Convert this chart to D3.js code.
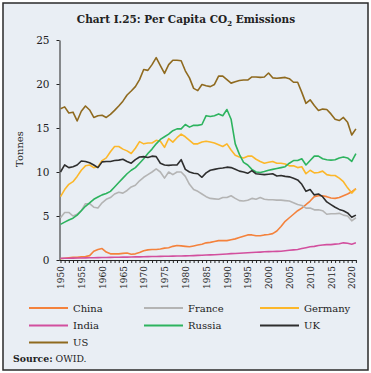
<!DOCTYPE html>
<html lang="en">
<head>
<meta charset="utf-8">
<title>Per Capita CO2 Emissions</title>
<script src="https://d3js.org/d3.v7.min.js"></script>
<style>
  body { margin: 0; background: #fff; }
  svg { display: block; font-family: "DejaVu Serif", serif; }
  .axis path, .axis line { stroke: #222; }
  .axis text { fill: #222; }
  .serie { fill: none; stroke-width: 1.6; stroke-linejoin: round; }
</style>
</head>
<body>
<div id="chart"></div>
<script>
// anos
var years = d3.range(1950, 2022);

var china = [0.15, 0.2, 0.25, 0.3, 0.3, 0.35, 0.4, 0.5, 1.0, 1.2,
  1.3, 0.9, 0.7, 0.7, 0.7, 0.75, 0.8, 0.65, 0.7, 0.85,
  1.05, 1.15, 1.2, 1.2, 1.25, 1.35, 1.4, 1.55, 1.65, 1.6,
  1.55, 1.5, 1.6, 1.7, 1.8, 1.95, 2.0, 2.1, 2.2, 2.2,
  2.2, 2.3, 2.4, 2.55, 2.7, 2.85, 2.85, 2.75, 2.75, 2.85,
  2.9, 3.0, 3.3, 3.8, 4.4, 4.8, 5.2, 5.6, 5.9, 6.3,
  6.7, 7.2, 7.3, 7.3, 7.2, 7.05, 7.0, 7.1, 7.3, 7.5,
  7.75, 8.1];

var france = [4.8, 5.4, 5.4, 5.0, 5.2, 5.6, 6.4, 6.4, 6.0, 5.9,
  6.5, 6.9, 7.1, 7.5, 7.7, 7.6, 7.9, 8.3, 8.5, 9.0,
  9.4, 9.7, 10.0, 10.35, 10.0, 9.3, 10.0, 9.7, 10.0, 10.0,
  9.5, 8.6, 8.0, 7.8, 7.5, 7.2, 7.0, 6.95, 6.9, 7.1,
  7.1, 7.3, 7.0, 6.75, 6.7, 6.8, 7.0, 6.9, 7.1, 6.9,
  6.85, 6.85, 6.8, 6.8, 6.75, 6.7, 6.5, 6.3, 6.2, 5.9,
  5.9, 5.7, 5.7, 5.6, 5.2, 5.25, 5.25, 5.3, 5.1, 5.0,
  4.45, 4.8];

var germany = [7.2, 8.0, 8.6, 8.9, 9.5, 10.2, 10.7, 10.8, 10.5, 10.6,
  11.3, 11.6, 12.3, 12.9, 12.9, 12.6, 12.4, 12.1, 12.7, 13.45,
  13.2, 13.3, 13.3, 13.6, 13.5, 12.8, 13.8, 13.4, 13.9, 14.3,
  14.0, 13.6, 13.2, 13.2, 13.4, 13.5, 13.4, 13.3, 13.1, 12.9,
  13.2, 12.5, 11.9, 11.7, 11.6, 11.8, 11.8, 11.45, 11.2, 11.0,
  11.1, 11.2, 11.0, 11.0, 10.9, 10.7, 10.7, 10.5, 10.6, 9.8,
  10.2, 9.9, 9.95, 10.1, 9.7, 9.6, 9.6, 9.3, 8.9, 8.2,
  7.6, 8.1];

var india = [0.2, 0.2, 0.2, 0.21, 0.22, 0.23, 0.24, 0.25, 0.26, 0.27,
  0.28, 0.29, 0.3, 0.31, 0.32, 0.33, 0.33, 0.34, 0.35, 0.36,
  0.37, 0.38, 0.39, 0.4, 0.41, 0.42, 0.43, 0.44, 0.45, 0.46,
  0.47, 0.48, 0.5, 0.52, 0.54, 0.56, 0.58, 0.6, 0.63, 0.66,
  0.69, 0.72, 0.74, 0.76, 0.79, 0.82, 0.86, 0.88, 0.9, 0.93,
  0.95, 0.97, 0.98, 1.0, 1.05, 1.1, 1.15, 1.2, 1.3, 1.4,
  1.5, 1.55, 1.65, 1.7, 1.75, 1.75, 1.8, 1.85, 1.95, 1.9,
  1.8, 1.95];

var russia = [4.05, 4.3, 4.55, 4.75, 5.1, 5.6, 6.1, 6.5, 6.9, 7.15,
  7.4, 7.55, 7.8, 8.3, 8.8, 9.3, 9.8, 10.2, 10.5, 11.0,
  11.5, 12.1, 12.6, 13.2, 13.7, 14.0, 14.3, 14.7, 14.9, 14.9,
  15.4, 15.1, 15.3, 15.3, 15.4, 16.4, 16.3, 16.4, 16.6, 16.4,
  17.1, 16.0, 13.2, 12.0, 11.1, 10.8, 10.3, 10.0, 9.95, 10.05,
  10.2, 10.3, 10.4, 10.5, 10.6, 11.0, 11.3, 11.3, 11.5, 10.8,
  11.3, 11.8, 11.8, 11.5, 11.4, 11.35, 11.4, 11.6, 11.7, 11.6,
  11.2, 12.1];

var uk = [10.0, 10.8, 10.5, 10.6, 10.8, 11.25, 11.2, 11.05, 10.8, 10.5,
  11.15, 11.2, 11.2, 11.3, 11.35, 11.45, 11.2, 11.0, 11.4, 11.7,
  11.75, 11.65, 11.8, 11.75, 11.0, 10.8, 10.75, 10.8, 10.8, 11.4,
  10.3, 10.0, 9.85, 9.8, 9.4, 9.9, 10.2, 10.3, 10.4, 10.45,
  10.55, 10.5, 10.3, 10.1, 10.0, 9.85, 10.15, 9.8, 9.75, 9.7,
  9.75, 9.8, 9.55, 9.6, 9.5, 9.45, 9.3, 9.1, 8.6, 7.8,
  8.0, 7.4, 7.5, 7.2, 6.6, 6.3, 6.0, 5.75, 5.6, 5.35,
  4.85, 5.1];

var us = [17.2, 17.4, 16.7, 16.8, 15.8, 16.9, 17.5, 17.05, 16.2, 16.4,
  16.45, 16.2, 16.55, 17.0, 17.5, 18.05, 18.75, 19.2, 19.7, 20.5,
  21.65, 21.55, 22.2, 23.0, 22.1, 21.2, 22.2, 22.7, 22.7, 22.65,
  21.5, 20.7, 19.5, 19.25, 19.95, 19.8, 19.7, 19.95, 20.9, 20.9,
  20.5, 20.1, 20.25, 20.4, 20.45, 20.45, 20.8, 20.8, 20.75, 20.8,
  21.25, 20.7, 20.65, 20.7, 20.75, 20.6, 20.2, 20.2, 19.05, 17.8,
  18.2, 17.55, 17.0, 17.15, 17.1, 16.6, 16.0, 15.85, 16.2, 15.65,
  14.2, 14.9];

var seriesNames = ["China", "France", "Germany", "India", "Russia", "UK", "US"];
var seriesValues = [china, france, germany, india, russia, uk, us];
var seriesColors = ["#f4823c", "#b4b4b4", "#fcb72a", "#d24f9e", "#2db35e", "#2e2e2e", "#8f6a1f"];
var yTicks = [0, 5, 10, 15, 20, 25];

var largura = 371, altura = 373;

var svg = d3.select("#chart").append("svg")
  .attr("width", largura)
  .attr("height", altura);

svg.append("rect")
  .attr("x", 3).attr("y", 3)
  .attr("width", 365).attr("height", 367)
  .attr("fill", "#e9eef4")
  .attr("stroke", "#2a2a2a")
  .attr("stroke-width", 1.5);

svg.append("text")
  .attr("x", 186).attr("y", 23)
  .attr("text-anchor", "middle")
  .style("font-weight", "bold")
  .style("font-size", "10.5px")
  .style("fill", "#222")
  .text("Chart I.25: Per Capita CO")
  .append("tspan").attr("dy", 3).style("font-size", "7px").text("2")
  .select(function() { return this.parentNode; })
  .append("tspan").attr("dy", -3).text(" Emissions");

var x = d3.scaleLinear().domain([1950, 2021]).range([60.5, 355.9]);
var y = d3.scaleLinear().domain([0, 25]).range([260, 40]);

// eixo y
var eixoY = svg.append("g")
  .attr("class", "axis")
  .attr("transform", "translate(59.5,0)")
  .call(d3.axisLeft(y).tickValues(yTicks).tickSize(3).tickSizeOuter(0).tickPadding(7));
eixoY.selectAll("text").style("font-size", "10.5px").style("font-family", "DejaVu Serif");

// eixo x
var eixoX = svg.append("g")
  .attr("class", "axis")
  .attr("transform", "translate(0,260)")
  .call(d3.axisBottom(x).tickValues(years).tickSize(3).tickSizeOuter(0)
    .tickFormat(function(d) { return d % 5 === 0 ? d : ""; }));
eixoX.select(".domain").attr("d", "M59.5,0.5H356.5");
eixoX.selectAll("text")
  .attr("transform", "rotate(-90)")
  .attr("x", -6).attr("y", 0).attr("dy", "0.35em")
  .style("text-anchor", "end")
  .style("font-size", "9px")
  .style("font-family", "DejaVu Serif");

svg.append("text")
  .attr("transform", "translate(23,149) rotate(-90)")
  .attr("text-anchor", "middle")
  .style("font-size", "10px")
  .style("fill", "#222")
  .text("Tonnes");

var linha = d3.line()
  .x(function(d, i) { return x(years[i]); })
  .y(function(d) { return y(d); });

svg.selectAll(".serie")
  .data(seriesValues)
  .enter().append("path")
  .attr("class", "serie")
  .attr("stroke", function(d, i) { return seriesColors[i]; })
  .attr("d", linha);

// legenda
var colX = [29, 144, 260], rowY = [308, 325.5, 342.5];
var leg = svg.selectAll(".leg")
  .data(seriesNames)
  .enter().append("g")
  .attr("class", "leg")
  .attr("transform", function(d, i) { return "translate(" + colX[i % 3] + "," + rowY[Math.floor(i / 3)] + ")"; });
leg.append("line")
  .attr("x1", 0).attr("x2", 39)
  .attr("stroke", function(d, i) { return seriesColors[i]; })
  .attr("stroke-width", 2);
leg.append("text")
  .attr("x", 44).attr("dy", "0.35em")
  .style("font-size", "10px")
  .style("fill", "#222")
  .text(function(d) { return d; });

var fonte = svg.append("text")
  .attr("x", 13).attr("y", 362)
  .style("font-size", "9.3px")
  .style("fill", "#222");
fonte.append("tspan").style("font-weight", "bold").text("Source:");
fonte.append("tspan").text(" OWID.");
</script>
</body>
</html>
